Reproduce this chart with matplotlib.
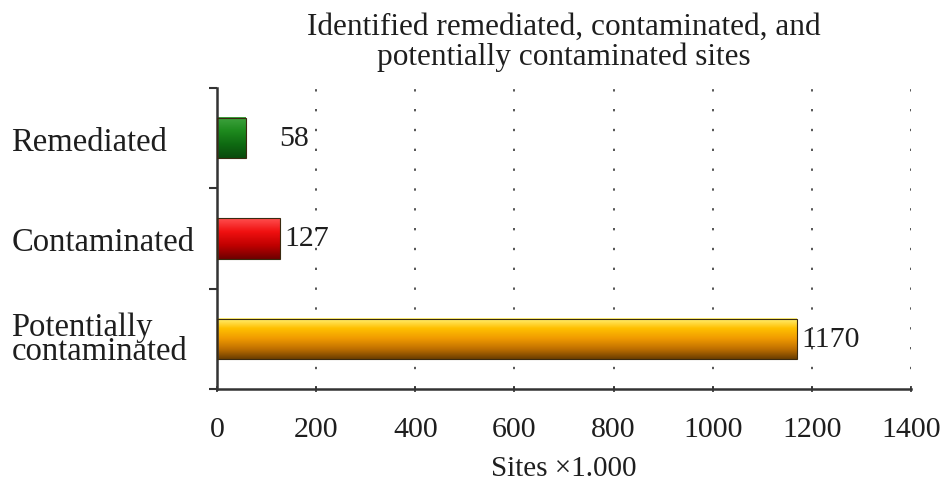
import numpy as np
import matplotlib
matplotlib.use("Agg")
import matplotlib.pyplot as plt
from matplotlib.colors import LinearSegmentedColormap

categories = ["Remediated", "Contaminated", "Potentially\ncontaminated"]
values = [58, 127, 1170]
x_ticks = [0, 200, 400, 600, 800, 1000, 1200, 1400]
title = "Identified remediated, contaminated, and\npotentially contaminated sites"
x_label = "Sites \u00d71.000"

# vertical shading for each bar: colours listed from top edge to bottom edge
gradients = [
    ["#3fa33f", "#1e8a1e", "#0f6a12", "#0a4a0c"],
    ["#ff5050", "#f01010", "#c00000", "#6e0000"],
    ["#fff27a", "#ffc000", "#f09a00", "#c07000", "#6a3e00"],
]
label_offsets = [24, 3, 3]

plt.rcParams["font.family"] = ["Liberation Serif", "DejaVu Serif"]
TXT = "#1e1e1e"

fig = plt.figure(figsize=(9.46, 4.85), dpi=100)
ax = fig.add_axes([0.2294, 0.1959, 0.7336, 0.6206])

ypos = np.arange(len(categories))
bars = ax.barh(ypos, values, height=0.4, facecolor="none",
               edgecolor="#3a2a10", linewidth=0.8, zorder=3)

for bar, cols in zip(bars, gradients):
    x0, y0 = bar.get_x(), bar.get_y()
    w, h = bar.get_width(), bar.get_height()
    cmap = LinearSegmentedColormap.from_list("shade", cols)
    grad = np.linspace(0, 1, 256).reshape(-1, 1)
    # inverted y-axis: image row 0 sits at the top of the bar
    ax.imshow(grad, cmap=cmap, aspect="auto", extent=(x0, x0 + w, y0 + h, y0),
              origin="upper", zorder=2, interpolation="bilinear")

for bar, v, off in zip(bars, values, label_offsets):
    ax.annotate(f"{v}", xy=(bar.get_width(), bar.get_y() + bar.get_height() / 2),
                xytext=(off, 0), textcoords="offset points",
                ha="left", va="center", fontsize=21.5, color=TXT, zorder=4)

ax.set_xlim(0, 1400)
ax.set_ylim(2.5, -0.5)
ax.set_xticks(x_ticks)
ax.set_xticklabels([str(t) for t in x_ticks], fontsize=21.5, color=TXT)
ax.set_yticks(ypos)
ax.set_yticklabels(categories, fontsize=23.5, color=TXT, linespacing=0.72,
                   ha="left")
ax.yaxis.set_ticks_position("left")
# left-aligned category names starting near the figure's left edge
ax.tick_params(axis="y", length=0, pad=148)
ax.set_yticks([-0.5, 0.5, 1.5, 2.5], minor=True)
ax.tick_params(axis="y", which="minor", length=6, width=1.5, color="#333333")
ax.tick_params(axis="x", length=5, width=1.2, color="#333333", direction="inout", pad=17)

for x in x_ticks[1:]:
    ax.axvline(x, color="#555555", linestyle=(0, (1.2, 9)), linewidth=1.4, zorder=1)

for s in ["top", "right"]:
    ax.spines[s].set_visible(False)
for s in ["left", "bottom"]:
    ax.spines[s].set_color("#333333")
    ax.spines[s].set_linewidth(1.8)

ax.set_xlabel(x_label, fontsize=21, color=TXT, labelpad=9)
ax.set_title(title, fontsize=22.5, color=TXT, pad=17, linespacing=1.05)

fig.savefig("out.png", dpi=100)
